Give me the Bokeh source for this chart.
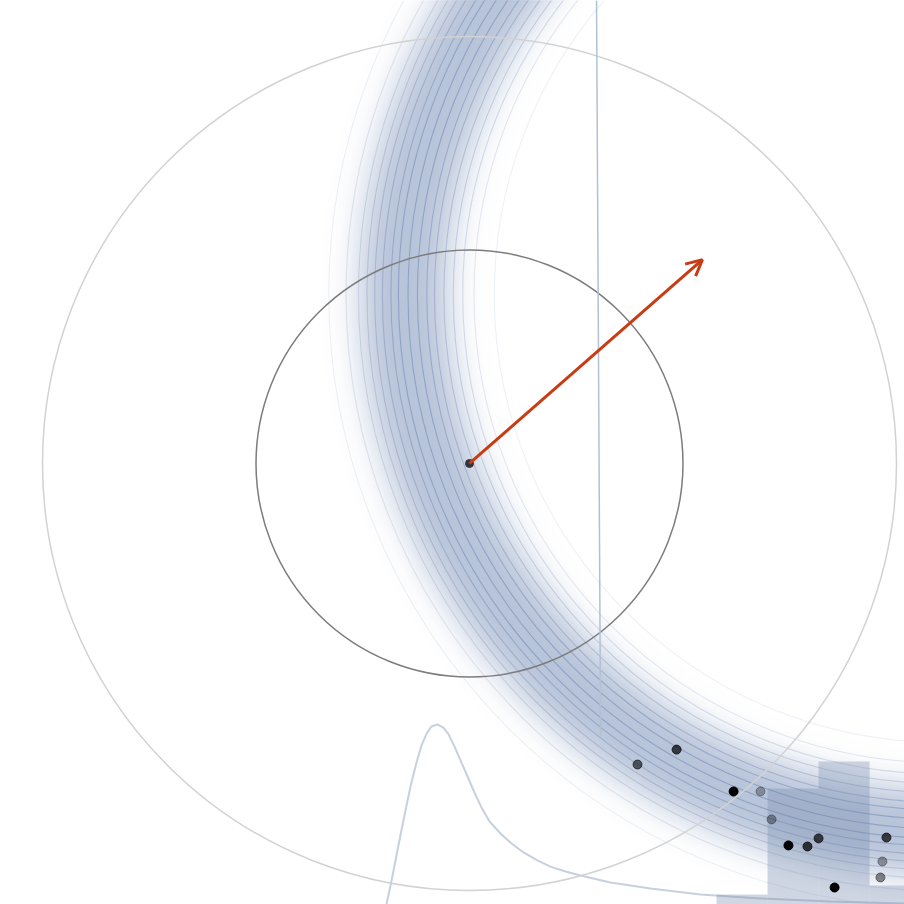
import numpy as np
from bokeh.plotting import figure
from bokeh.models import ColumnDataSource, Arrow, OpenHead
from bokeh.embed import file_html
from bokeh.resources import INLINE

# circles around the origin
circle_radii = [2.0, 1.0]
circle_colors = ['#d2d2d2', '#7c7c7c']

# ring (contour band), centre and contour radii
ring_x, ring_y = 2.215, 0.792
ring_mid = 2.52
ring_width = 0.185
ring_radii = [2.099, 2.194, 2.247, 2.291, 2.335, 2.379, 2.415, 2.459, 2.503,
              2.548, 2.583, 2.623, 2.659, 2.695, 2.735, 2.793, 2.874]
ring_alphas = [0.12, 0.18, 0.25, 0.3, 0.36, 0.42, 0.48, 0.55, 0.55,
               0.55, 0.48, 0.42, 0.36, 0.3, 0.24, 0.18, 0.12]

# vertical line
vline_x = [0.595, 0.614]
vline_y = [2.17, -1.274]

# density curve
curve_x = [-0.389, -0.365, -0.342, -0.319, -0.295, -0.272, -0.248, -0.225, -0.201, -0.178,
           -0.150, -0.122, -0.098, -0.070, -0.042, -0.009, 0.023, 0.056, 0.094, 0.145,
           0.197, 0.253, 0.318, 0.379, 0.450, 0.520, 0.660, 0.848, 1.082, 1.363, 1.691, 2.037]
curve_y = [-2.066, -1.953, -1.836, -1.719, -1.602, -1.494, -1.400, -1.321, -1.265, -1.232,
           -1.222, -1.237, -1.269, -1.326, -1.391, -1.466, -1.541, -1.611, -1.677, -1.733,
           -1.780, -1.822, -1.859, -1.888, -1.911, -1.930, -1.963, -1.991, -2.019, -2.037, -2.052, -2.061]

# histogram
hist_left = [1.157, 1.396, 1.635, 1.874]
hist_right = [1.396, 1.635, 1.874, 2.112]
hist_top = [-2.019, -1.522, -1.396, -1.977]
hist_bottom = -2.4

# sample points
pts_x = [0.787, 0.970, 1.237, 1.363, 1.415, 1.494, 1.583, 1.635, 1.710, 1.953, 1.934, 1.925]
pts_y = [-1.410, -1.340, -1.536, -1.536, -1.667, -1.789, -1.794, -1.756, -1.986, -1.752, -1.864, -1.939]
pts_alpha = [0.6, 0.72, 1.0, 0.3, 0.35, 1.0, 0.75, 0.7, 1.0, 0.7, 0.35, 0.45]

# arrow
arrow_end = (1.091, 0.955)

band_peak = np.array([184, 196, 217])
line_color = '#6f87b3'
bar_color = '#788caf'

p = figure(width=904, height=904, x_range=(-2.1967, 2.0375), y_range=(-2.0656, 2.1686),
           output_backend="svg", toolbar_location=None, min_border=0)
p.axis.visible = False
p.grid.visible = False
p.outline_line_color = None
p.background_fill_color = 'white'

# soft band: nested opaque annuli, widest first, shading towards the middle
hw = np.linspace(0.44, 0.01, 44)
level = np.exp(-0.5 * (hw / ring_width) ** 3)
cols = ['#%02x%02x%02x' % tuple(int(round(255 - (255 - c) * l)) for c in band_peak) for l in level]
p.annulus(x=[ring_x]*len(hw), y=[ring_y]*len(hw),
          inner_radius=list(ring_mid-hw), outer_radius=list(ring_mid+hw),
          fill_color=cols, line_color=None)

rs = ColumnDataSource(dict(x=[ring_x]*len(ring_radii), y=[ring_y]*len(ring_radii),
                           r=ring_radii, a=ring_alphas))
p.circle(x='x', y='y', radius='r', source=rs, fill_color=None,
         line_color=line_color, line_alpha='a', line_width=1.1)

for r, c in zip(circle_radii, circle_colors):
    p.circle(x=0, y=0, radius=r, fill_color=None, line_color=c, line_width=1.5)

p.line(vline_x, vline_y, line_color='#b3c0d4', line_width=1.5)
p.line(curve_x, curve_y, line_color='#c6d0de', line_width=2)

p.quad(left=hist_left, right=hist_right, top=hist_top, bottom=hist_bottom,
       fill_color=bar_color, fill_alpha=0.35, line_color=None)

p.scatter(pts_x, pts_y, size=9, color='black', alpha=pts_alpha)

p.add_layout(Arrow(end=OpenHead(size=16, line_color='#c83c14', line_width=3),
                   x_start=0, y_start=0, x_end=arrow_end[0], y_end=arrow_end[1],
                   line_color='#c83c14', line_width=3))
p.scatter([0], [0], size=8, color='#30353d')

open("out.html", "w").write(file_html(p, INLINE))
